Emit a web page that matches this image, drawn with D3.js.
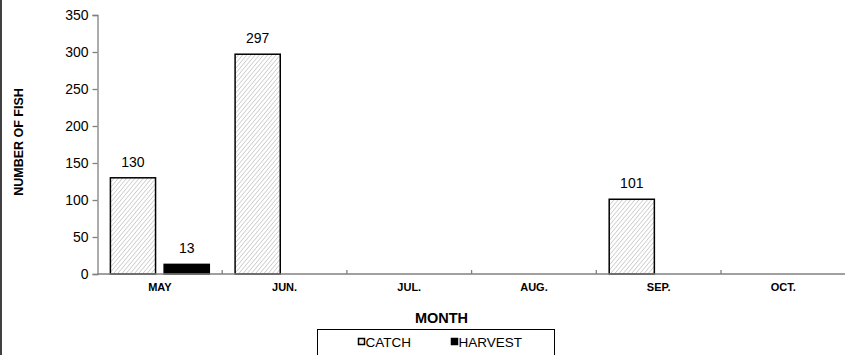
<!DOCTYPE html>
<html>
<head>
<meta charset="utf-8">
<script src="https://cdn.jsdelivr.net/npm/d3@7/dist/d3.min.js"></script>
<style>
  html, body { margin: 0; padding: 0; background: #fff; }
  svg { display: block; font-family: "Liberation Sans", Arial, sans-serif; }
</style>
</head>
<body>
<svg id="chart" width="845" height="355"></svg>
<script>
const months = ["MAY", "JUN.", "JUL.", "AUG.", "SEP.", "OCT."];
const catchValues = [130, 297, null, null, 101, null];
const harvestValues = [13, null, null, null, null, null];
const yTicks = [0, 50, 100, 150, 200, 250, 300, 350];
const seriesNames = ["CATCH", "HARVEST"];

const svg = d3.select("#chart");
const W = 845, H = 355;
const plot = { left: 97.5, right: 845.7, top: 15, bottom: 274 };

const defs = svg.append("defs");
const pat = defs.append("pattern")
  .attr("id", "hatch").attr("patternUnits", "userSpaceOnUse")
  .attr("width", 3.2).attr("height", 3.2)
  .attr("patternTransform", "rotate(40)");
pat.append("rect").attr("width", 3.2).attr("height", 3.2).attr("fill", "#fff");
pat.append("line").attr("x1", 0).attr("y1", 0).attr("x2", 0).attr("y2", 3.2)
  .attr("stroke", "#b4b4b4").attr("stroke-width", 1.1);

// left border
svg.append("line").attr("x1", 1).attr("x2", 1).attr("y1", 0).attr("y2", H)
  .attr("stroke", "#000").attr("stroke-width", 1.5);

const x = d3.scaleBand().domain(months).range([plot.left, plot.right]).paddingInner(0).paddingOuter(0);
const sub = d3.scaleBand().domain(seriesNames).range([0, x.bandwidth()]).paddingInner(0.16).paddingOuter(0.24);
const y = d3.scaleLinear().domain([0, 350]).range([plot.bottom, plot.top]);

// y axis
const yAxis = svg.append("g").attr("transform", `translate(${plot.left},0)`)
  .call(d3.axisLeft(y).tickValues(yTicks).tickSize(5).tickPadding(4));
yAxis.select(".domain").attr("stroke", "#808080").attr("stroke-width", 1.3);
yAxis.selectAll(".tick line").attr("stroke", "#808080").attr("stroke-width", 1.3);
yAxis.selectAll(".tick text").attr("font-size", 14).attr("fill", "#000")
  .attr("font-family", "Liberation Sans, Arial, sans-serif");

// bars
const data = [];
months.forEach((m, i) => {
  if (catchValues[i] != null) data.push({ m, s: "CATCH", v: catchValues[i] });
  if (harvestValues[i] != null) data.push({ m, s: "HARVEST", v: harvestValues[i] });
});

svg.append("g").selectAll("rect").data(data).join("rect")
  .attr("x", d => x(d.m) + sub(d.s))
  .attr("y", d => y(d.v))
  .attr("width", sub.bandwidth())
  .attr("height", d => y(0) - y(d.v))
  .attr("fill", d => d.s === "CATCH" ? "url(#hatch)" : "#000")
  .attr("stroke", "#000").attr("stroke-width", 1.5);

svg.append("g").selectAll("text").data(data).join("text")
  .attr("x", d => x(d.m) + sub(d.s) + sub.bandwidth() / 2)
  .attr("y", d => y(d.v) - 11)
  .attr("text-anchor", "middle").attr("font-size", 14).attr("fill", "#000")
  .text(d => d.v);

// x axis
const xAxisG = svg.append("g").attr("transform", `translate(0,${plot.bottom})`);
xAxisG.append("line").attr("x1", plot.left).attr("x2", W).attr("y1", 0).attr("y2", 0)
  .attr("stroke", "#808080").attr("stroke-width", 1.3);
const bounds = months.slice(1).map(m => x(m));
xAxisG.selectAll("line.tk").data(bounds).join("line").attr("class", "tk")
  .attr("x1", d => d).attr("x2", d => d).attr("y1", 0).attr("y2", -4)
  .attr("stroke", "#808080").attr("stroke-width", 1.3);
xAxisG.selectAll("text").data(months).join("text")
  .attr("x", d => x(d) + x.bandwidth() / 2)
  .attr("y", 17)
  .attr("text-anchor", "middle").attr("font-size", 11).attr("font-weight", "bold")
  .text(d => d);

// axis titles
svg.append("text").attr("x", 441.5).attr("y", 323)
  .attr("text-anchor", "middle").attr("font-size", 14.5).attr("font-weight", "bold")
  .text("MONTH");
svg.append("text").attr("transform", "translate(23,142) rotate(-90)")
  .attr("text-anchor", "middle").attr("font-size", 12.5).attr("font-weight", "bold")
  .text("NUMBER OF FISH");

// legend
const lg = svg.append("g");
lg.append("rect").attr("x", 317.5).attr("y", 329.5).attr("width", 237).attr("height", 40)
  .attr("fill", "#fff").attr("stroke", "#000").attr("stroke-width", 1);
const legendItems = [
  { name: seriesNames[0], x: 358, fill: "url(#hatch)" },
  { name: seriesNames[1], x: 451, fill: "#000" }
];
legendItems.forEach(it => {
  lg.append("rect").attr("x", it.x + 0.5).attr("y", 338.5).attr("width", 6).attr("height", 6)
    .attr("fill", it.fill).attr("stroke", "#000").attr("stroke-width", 1.5);
  lg.append("text").attr("x", it.x + 7.5).attr("y", 347).attr("font-size", 13.5).text(it.name);
});
</script>
</body>
</html>
